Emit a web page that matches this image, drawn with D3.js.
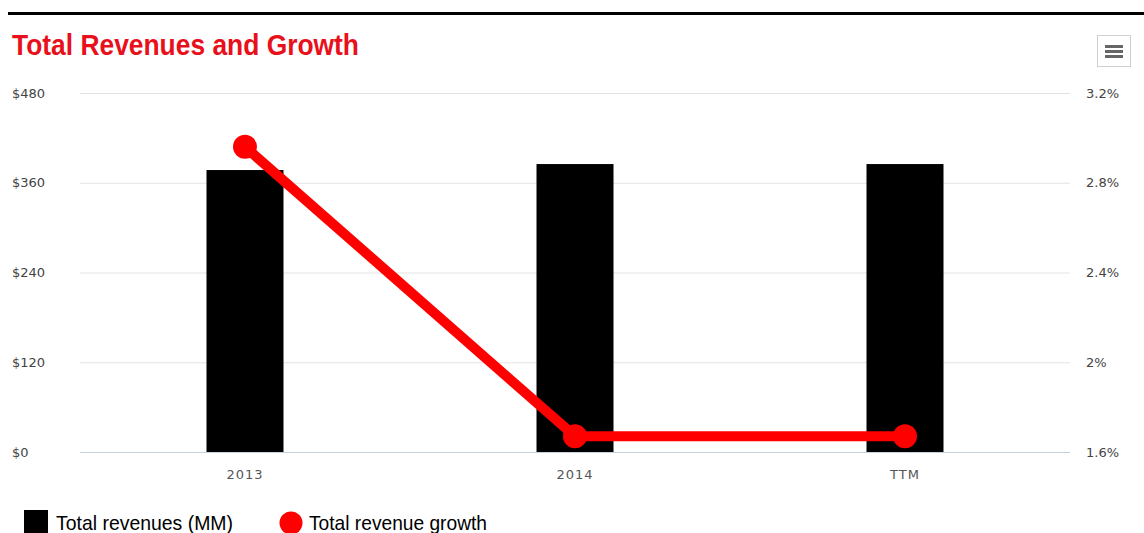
<!DOCTYPE html>
<html>
<head>
<meta charset="utf-8">
<script src="https://cdn.jsdelivr.net/npm/d3@7"></script>
<style>
  html, body { margin: 0; padding: 0; background: #fff; }
  svg { display: block; }
</style>
</head>
<body>
<svg id="chart" width="1144" height="533"></svg>
<script>
// Chart data
const categories = ["2013", "2014", "TTM"];
const revenues = [377, 385, 385];          // Total revenues (MM), $
const growth = [2.96, 1.67, 1.67];         // Total revenue growth, %
const leftTicks = [0, 120, 240, 360, 480];
const rightTicks = [1.6, 2.0, 2.4, 2.8, 3.2];
const rightTickLabels = ["1.6%", "2%", "2.4%", "2.8%", "3.2%"];

const svg = d3.select("#chart");
const W = 1144, H = 533;
const plot = { left: 80, right: 1070, top: 93, bottom: 452 };
const axisFont = "'DejaVu Sans', Verdana, sans-serif";
const condFont = "'Liberation Sans', Arial, sans-serif";

// Top rule
svg.append("rect").attr("x", 8).attr("y", 12).attr("width", W - 8).attr("height", 3).attr("fill", "#000");

// Title (condensed by squeezing glyphs into a fixed length)
svg.append("text")
  .attr("x", 12).attr("y", 55)
  .attr("font-family", condFont).attr("font-weight", "bold")
  .attr("font-size", 29).attr("fill", "#e8101a")
  .attr("textLength", 347).attr("lengthAdjust", "spacingAndGlyphs")
  .text("Total Revenues and Growth");

// Menu icon
const menu = svg.append("g").attr("transform", "translate(1097,35)");
menu.append("rect").attr("x", 0.5).attr("y", 0.5).attr("width", 33).attr("height", 31)
  .attr("fill", "#fff").attr("stroke", "#cfcfcf");
[10, 15, 20].forEach(y => menu.append("rect").attr("x", 8).attr("y", y).attr("width", 18).attr("height", 3).attr("fill", "#666"));

// Scales
const x = d3.scaleBand().domain(categories).range([plot.left, plot.right]).paddingInner(0).paddingOuter(0);
const yL = d3.scaleLinear().domain([0, 480]).range([plot.bottom, plot.top]);
const yR = d3.scaleLinear().domain([1.6, 3.2]).range([plot.bottom, plot.top]);

// Gridlines
svg.append("g").selectAll("line").data(leftTicks).join("line")
  .attr("x1", plot.left).attr("x2", plot.right)
  .attr("y1", d => yL(d) + 0.5).attr("y2", d => yL(d) + 0.5)
  .attr("stroke", d => d === 0 ? "#c8d0dc" : "#e3e3e3").attr("stroke-width", 1);

// Left axis
const leftAxis = svg.append("g").attr("transform", `translate(${plot.left - 40},0)`)
  .call(d3.axisLeft(yL).tickValues(leftTicks).tickSize(0).tickPadding(0).tickFormat(d => "$" + d));
leftAxis.select(".domain").remove();
leftAxis.selectAll("text").attr("font-family", axisFont).attr("font-size", 13).attr("fill", "#444")
  .attr("text-anchor", "start").attr("x", -28).attr("dy", "0.32em");

// Right axis
const rightAxis = svg.append("g").attr("transform", `translate(${plot.right + 16},0)`)
  .call(d3.axisRight(yR).tickValues(rightTicks).tickSize(0).tickPadding(0)
    .tickFormat((d, i) => rightTickLabels[i]));
rightAxis.select(".domain").remove();
rightAxis.selectAll("text").attr("font-family", axisFont).attr("font-size", 13).attr("fill", "#444").attr("dy", "0.32em");

// Bottom axis
const bottomAxis = svg.append("g").attr("transform", `translate(0,${plot.bottom})`)
  .call(d3.axisBottom(x).tickSize(0).tickPadding(18));
bottomAxis.select(".domain").remove();
bottomAxis.selectAll("text").attr("font-family", axisFont).attr("font-size", 13).attr("fill", "#555").attr("letter-spacing", "1px");

// Bars
const barW = 77;
svg.append("g").selectAll("rect").data(revenues).join("rect")
  .attr("x", (d, i) => x(categories[i]) + x.bandwidth() / 2 - barW / 2)
  .attr("y", d => yL(d))
  .attr("width", barW)
  .attr("height", d => yL(0) - yL(d))
  .attr("fill", "#000");

// Growth line
const line = d3.line()
  .x((d, i) => x(categories[i]) + x.bandwidth() / 2)
  .y(d => yR(d));
svg.append("path").datum(growth)
  .attr("d", line).attr("fill", "none")
  .attr("stroke", "#ff0000").attr("stroke-width", 10).attr("stroke-linejoin", "round");
svg.append("g").selectAll("circle").data(growth).join("circle")
  .attr("cx", (d, i) => x(categories[i]) + x.bandwidth() / 2)
  .attr("cy", d => yR(d))
  .attr("r", 12).attr("fill", "#ff0000");

// Legend
const legend = svg.append("g").attr("font-family", condFont).attr("font-size", 21).attr("fill", "#000");
legend.append("rect").attr("x", 24).attr("y", 510).attr("width", 24).attr("height", 23).attr("fill", "#000");
legend.append("text").attr("x", 56).attr("y", 530)
  .attr("textLength", 177).attr("lengthAdjust", "spacingAndGlyphs").text("Total revenues (MM)");
legend.append("circle").attr("cx", 291).attr("cy", 523).attr("r", 11.5).attr("fill", "#ff0000");
legend.append("text").attr("x", 309).attr("y", 530)
  .attr("textLength", 178).attr("lengthAdjust", "spacingAndGlyphs").text("Total revenue growth");
</script>
</body>
</html>
